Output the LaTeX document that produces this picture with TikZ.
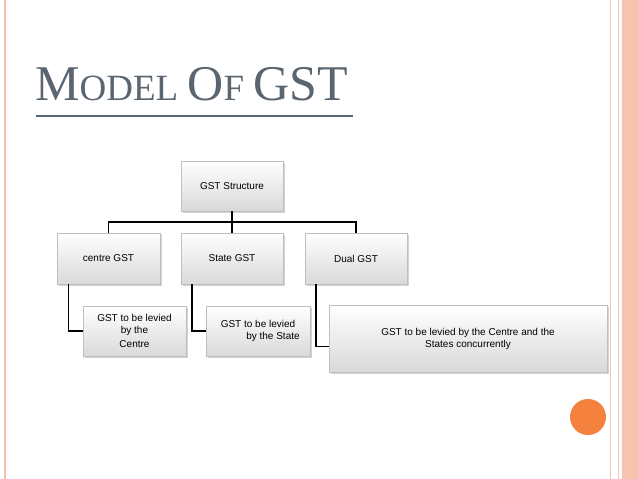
\documentclass[tikz,border=0pt]{standalone}
\usepackage{fontspec}
\setmainfont{Liberation Sans}
\newfontfamily\titlefont{Liberation Serif}
\usetikzlibrary{shadows}
\definecolor{peach}{HTML}{F6C4AE}
\definecolor{slate}{HTML}{5B6570}
\definecolor{dotorange}{HTML}{F5813F}

\begin{document}
\begin{tikzpicture}[
    x=1pt, y=-1pt,
    box/.style={
        draw=black!25,
        top color=white,
        bottom color=black!15,
        drop shadow={opacity=0.35, shadow xshift=1.5pt, shadow yshift=-1.5pt},
        font=\fontsize{10}{12}\selectfont,
        align=center,
        inner sep=2pt,
    },
    link/.style={draw=black, line width=1.4pt},
]
\useasboundingbox (0,0) rectangle (638,479);

% frame
\draw[peach, line width=1.5pt] (5,0) -- (5,479);
\draw[peach, line width=1pt] (610,0) -- (610,479);
\draw[peach, line width=1pt] (618,0) -- (618,479);
\fill[peach] (622,0) rectangle (638,479);
\fill[dotorange] (588,417) circle (18);

% title
\node[anchor=base west, inner sep=0, text=slate, font=\titlefont] (title) at (35,100)
    {\fontsize{50}{50}\selectfont M\fontsize{37}{37}\selectfont ODEL
     \fontsize{50}{50}\selectfont O\fontsize{37}{37}\selectfont F
     \fontsize{50}{50}\selectfont GST};
\draw[slate, line width=2.5pt] (36,116) -- (353,116);

% boxes
\node[box, minimum width=102pt, minimum height=50pt] (root) at (232,186) {GST Structure};
\node[box, minimum width=103pt, minimum height=51pt] (centre) at (108.5,258.5) {centre GST};
\node[box, minimum width=102pt, minimum height=51pt] (state) at (232,258.5) {State GST};
\node[box, minimum width=102pt, minimum height=51pt] (dual) at (356,258.5) {Dual GST};

\node[box, minimum width=103pt, minimum height=50pt] (centreTax) at (134.5,331)
    {GST to be levied\\by the\\[2pt]Centre};
\node[box, minimum width=104pt, minimum height=50pt] (stateTax) at (258,331)
    {GST to be levied\\\hspace*{3em}by the State};
\node[box, minimum width=278pt, minimum height=67pt] (dualTax) at (468,338.5)
    {GST to be levied by the Centre and the\\States concurrently};

% connectors
\coordinate (bus) at (232,222);
\draw[link] (root.south) -- (bus);
\draw[link] (centre.north) |- (bus) -| (dual.north);
\draw[link] (bus) -- (state.north);
\draw[link] ([xshift=-40pt]centre.south) |- (centreTax.west);
\draw[link] ([xshift=-40pt]state.south) |- (stateTax.west);
\draw[link] ([xshift=-40pt]dual.south) |- ([yshift=-8pt]dualTax.west);
\end{tikzpicture}
\end{document}
